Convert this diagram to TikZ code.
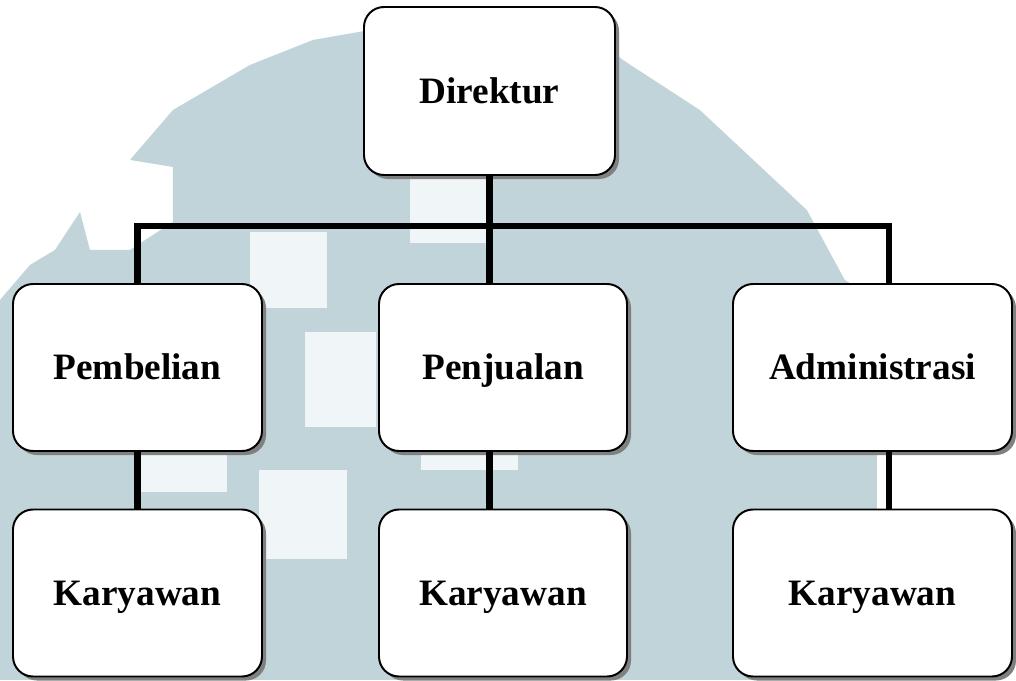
\documentclass[tikz,border=0pt]{standalone}
\usepackage{fontspec}
\setmainfont{Liberation Serif}
\usetikzlibrary{shadows}
\definecolor{wmark}{RGB}{193,212,218}
\definecolor{wlight}{RGB}{240,246,248}
\begin{document}
\begin{tikzpicture}[
    unitbox/.style={draw, line width=1.4pt, fill=white, rounded corners=0.5cm,
      minimum width=6.225cm, minimum height=4.175cm, inner sep=0pt,
      text height=17.5pt, text depth=0pt,
      font=\fontsize{26.5}{30}\selectfont\bfseries,
      drop shadow={shadow xshift=0.1cm, shadow yshift=-0.1cm, fill=black!50, opacity=1}},
    link/.style={line width=4.6pt, line join=miter}
  ]
      \useasboundingbox (0,0) rectangle (25.4,-17);

      % watermark in the background
      \begin{scope}[x=0.025cm, y=-0.025cm]
        \fill[wmark] (0,680) -- (0,300) -- (30,265) -- (55,250) -- (80,212) -- (90,250)
          -- (130,250) -- (173,222) -- (173,167) -- (130,160) -- (173,110) -- (250,65)
          -- (313,40) -- (370,30) -- (600,40) -- (623,60) -- (700,110) -- (807,210)
          -- (845,280) -- (877,300) -- (877,680) -- cycle;
        \fill[wlight] (250,232) rectangle (327,308);
        \fill[wlight] (305,332) rectangle (376,427);
        \fill[wlight] (259,470) rectangle (347,559);
        \fill[wlight] (410,178) rectangle (488,243);
        \fill[wlight] (140,451) rectangle (227,492);
        \fill[wlight] (421,451) rectangle (518,470);
      \end{scope}

      \begin{scope}[every node/.style={unitbox}]
        \node (dir)  at (12.2375,-2.275)  [minimum width=6.275cm, minimum height=4.2cm] {Direktur};
        \node (pemb) at (3.4375,-9.1875)  {Pembelian};
        \node (penj) at (12.575,-9.1875)  [minimum width=6.2cm] {Penjualan};
        \node (adm)  at (21.8125,-9.1875) [minimum width=6.975cm] {Administrasi};
        \node (k1)   at (3.4375,-14.825)  {Karyawan};
        \node (k2)   at (12.575,-14.825)  [minimum width=6.2cm] {Karyawan};
        \node (k3)   at (21.8125,-14.825) [minimum width=6.975cm] {Karyawan};
      \end{scope}

      \coordinate (barR) at (22.225,-5.65);

      \begin{scope}[every path/.style={link}]
        \draw (dir.south) -- (dir.south |- penj.north);
        \draw (pemb.north) |- (barR) -- (barR |- adm.north);
        \draw (pemb.south) -- (k1.north);
        \draw (dir.south |- penj.south) -- (dir.south |- k2.north);
        \draw (barR |- adm.south) -- (barR |- k3.north);
      \end{scope}

    \end{tikzpicture}
\end{document}
